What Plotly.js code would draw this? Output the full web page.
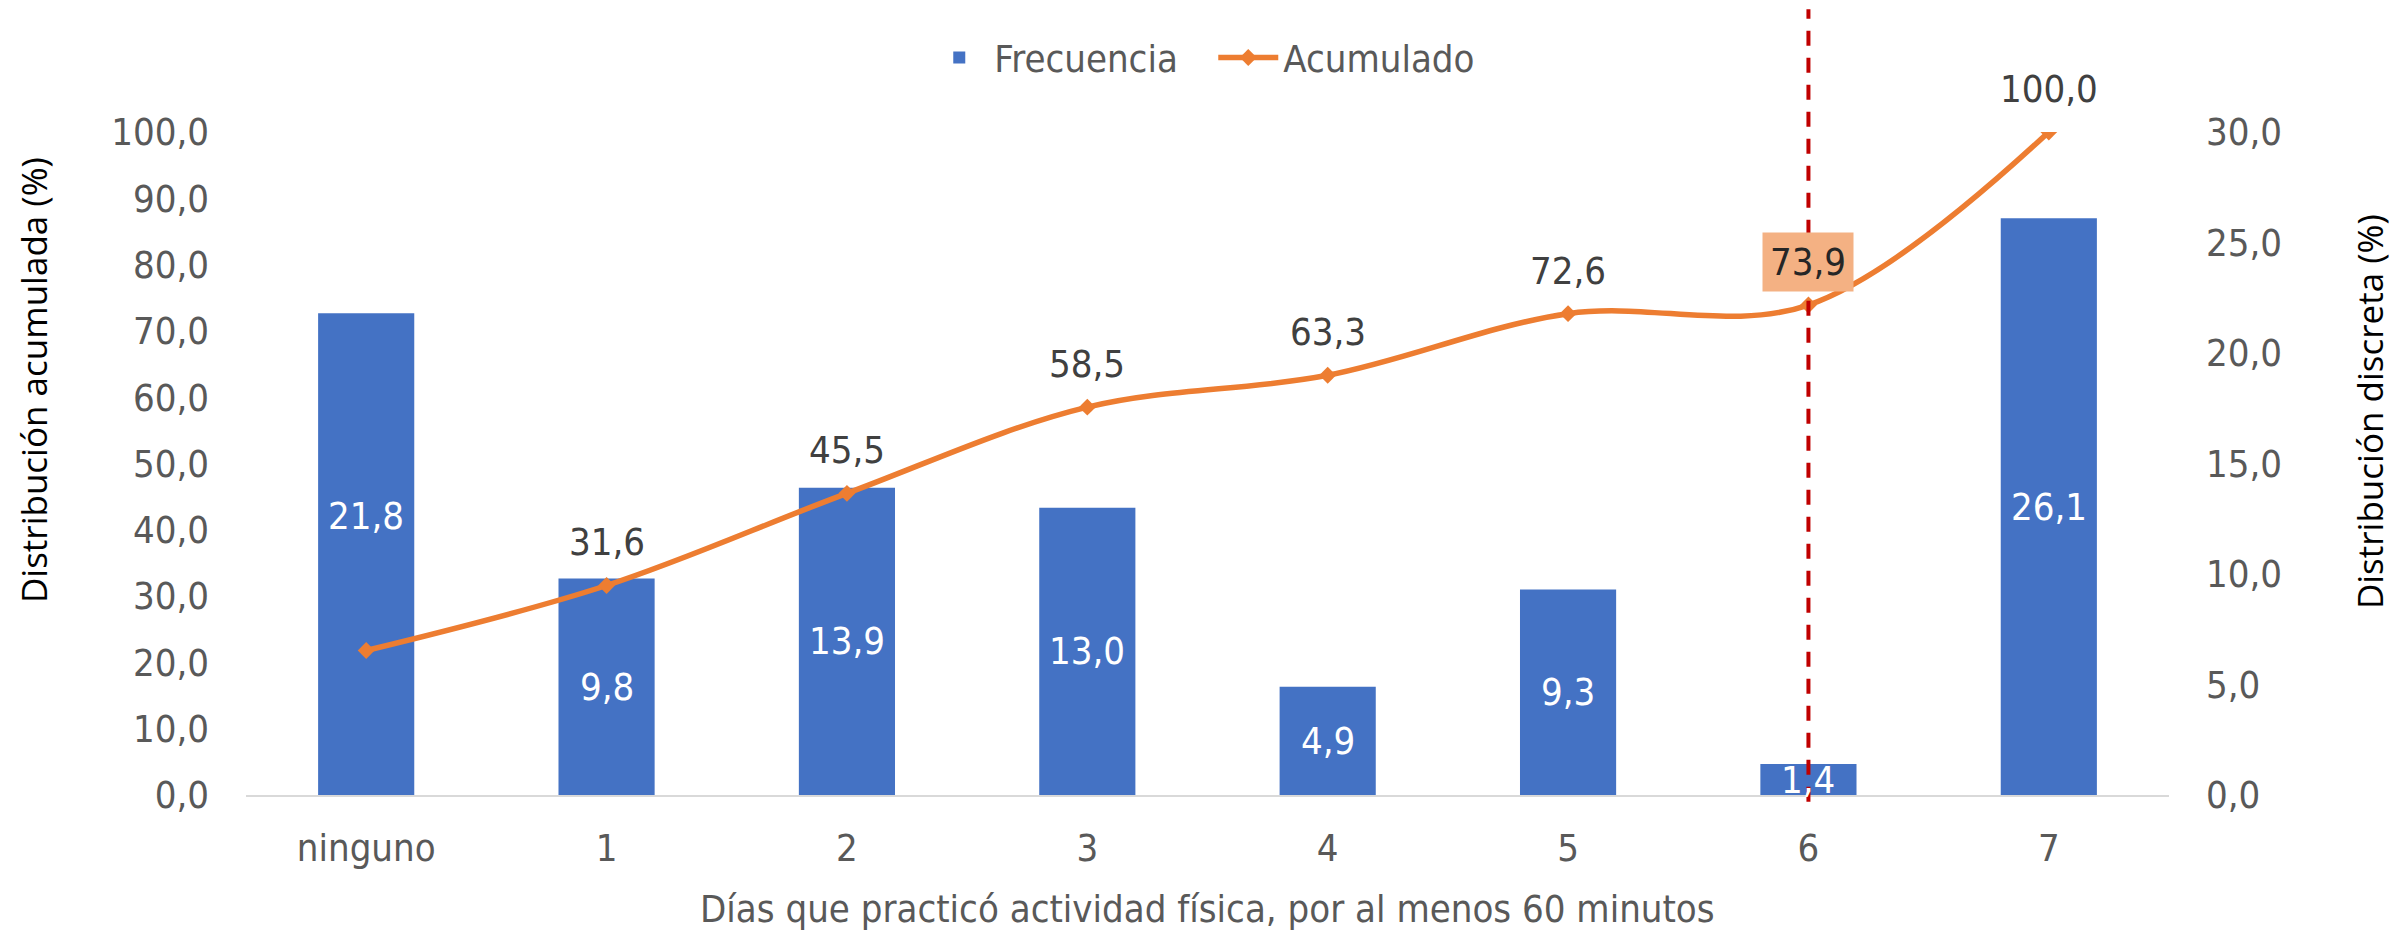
<!DOCTYPE html>
<html>
<head>
<meta charset="utf-8">
<script src="https://cdn.plot.ly/plotly-3.0.1.min.js"></script>
<style>html,body{margin:0;padding:0;background:#fff;}#chart{width:2407px;height:931px;}</style>
</head>
<body>
<div id="chart"></div>
<script>
// ---- data ----
const categories = ['ninguno', '1', '2', '3', '4', '5', '6', '7'];
const frecuencia = [21.8, 9.8, 13.9, 13.0, 4.9, 9.3, 1.4, 26.1];
const acumulado = [21.8, 31.6, 45.5, 58.5, 63.3, 72.6, 73.9, 100.0];
const acumuladoLabelShown = [false, true, true, true, true, true, true, true];
const highlightCategory = '6';
const leftTicks = [0, 10, 20, 30, 40, 50, 60, 70, 80, 90, 100];
const rightTicks = [0, 5, 10, 15, 20, 25, 30];

const narrow = '"DejaVu Sans Condensed", "Liberation Sans Narrow", sans-serif';
const titleFont = '"Open Sans", "DejaVu Sans", sans-serif';
const fmt = v => v.toFixed(1).replace('.', ',');

const traces = [
  {
    type: 'bar', name: 'Frecuencia', x: categories, y: frecuencia,
    yaxis: 'y', marker: {color: '#4472C4'}, hoverinfo: 'skip'
  },
  {
    type: 'scatter', mode: 'lines+markers', name: 'Acumulado',
    x: categories, y: acumulado, yaxis: 'y2',
    line: {color: '#ED7D31', width: 5.5, shape: 'spline', smoothing: 1},
    marker: {symbol: 'diamond', size: 13, color: '#ED7D31'}, hoverinfo: 'skip'
  }
];

const annotations = [];
// bar labels (white, centred in the bar)
const barLabelShift = {'ninguno': 38};
categories.forEach((c, i) => {
  annotations.push({
    x: c, y: frecuencia[i] / 2, xref: 'x', yref: 'y', showarrow: false,
    xanchor: 'center', yanchor: 'middle',
    text: fmt(frecuencia[i]), yshift: barLabelShift[c] || 0,
    font: {family: narrow, size: 38, color: '#FFFFFF'}
  });
});
// cumulative labels above points
categories.forEach((c, i) => {
  if (!acumuladoLabelShown[i]) return;
  const hl = c === highlightCategory;
  annotations.push({
    x: c, y: acumulado[i], xref: 'x', yref: 'y2', showarrow: false,
    xanchor: 'center', yanchor: 'middle',
    text: fmt(acumulado[i]), yshift: 43,
    bgcolor: hl ? '#F4B183' : 'rgba(0,0,0,0)',
    borderpad: hl ? 7 : 0,
    font: {family: narrow, size: 38, color: hl ? '#262626' : '#404040'}
  });
});
// axis titles
annotations.push({
  xref: 'paper', yref: 'paper', x: -0.1102, y: 0.626, showarrow: false,
  xanchor: 'center', yanchor: 'middle',
  textangle: -90, text: 'Distribución acumulada (%)',
  font: {family: titleFont, size: 35, color: '#000000'}
});
annotations.push({
  xref: 'paper', yref: 'paper', x: 1.104, y: 0.579, showarrow: false,
  xanchor: 'center', yanchor: 'middle',
  textangle: -90, text: 'Distribución discreta (%)',
  font: {family: titleFont, size: 35, color: '#000000'}
});
annotations.push({
  xref: 'paper', yref: 'paper', x: 0.5, y: -0.172, showarrow: false,
  xanchor: 'center', yanchor: 'middle',
  text: 'Días que practicó actividad física, por al menos 60 minutos',
  font: {family: narrow, size: 38, color: '#595959'}
});

const layout = {
  width: 2407, height: 931,
  margin: {l: 246, r: 238, t: 132, b: 136},
  paper_bgcolor: '#FFFFFF', plot_bgcolor: '#FFFFFF',
  separators: ',.',
  bargap: 0.6,
  showlegend: true,
  legend: {
    orientation: 'h', x: 0.503, xanchor: 'center', y: 1.112, yanchor: 'middle',
    itemwidth: 60, entrywidth: 214, entrywidthmode: 'pixels',
    font: {family: narrow, size: 38, color: '#595959'}, traceorder: 'normal'
  },
  xaxis: {
    type: 'category', categoryorder: 'array', categoryarray: categories,
    showline: true, linecolor: '#D9D9D9', linewidth: 2,
    showgrid: false, zeroline: false, ticks: '',
    tickfont: {family: narrow, size: 38, color: '#595959'},
    ticklabelstandoff: 18
  },
  yaxis: {
    side: 'right', range: [0, 30], tickvals: rightTicks, tickformat: '.1f',
    showgrid: false, zeroline: false, showline: false, ticks: '',
    tickfont: {family: narrow, size: 38, color: '#595959'},
    ticklabelstandoff: 36
  },
  yaxis2: {
    overlaying: 'y', side: 'left', range: [0, 100], tickvals: leftTicks, tickformat: '.1f',
    showgrid: false, zeroline: false, showline: false, ticks: '',
    tickfont: {family: narrow, size: 38, color: '#595959'},
    ticklabelstandoff: 36
  },
  shapes: [{
    type: 'line', xref: 'x', yref: 'paper', x0: highlightCategory, x1: highlightCategory,
    y0: -0.01, y1: 1.185, layer: 'above',
    line: {color: '#C00000', width: 4, dash: '15px,12px'}
  }],
  annotations: annotations
};

Plotly.newPlot('chart', traces, layout, {displayModeBar: false, responsive: false});
</script>
</body>
</html>
